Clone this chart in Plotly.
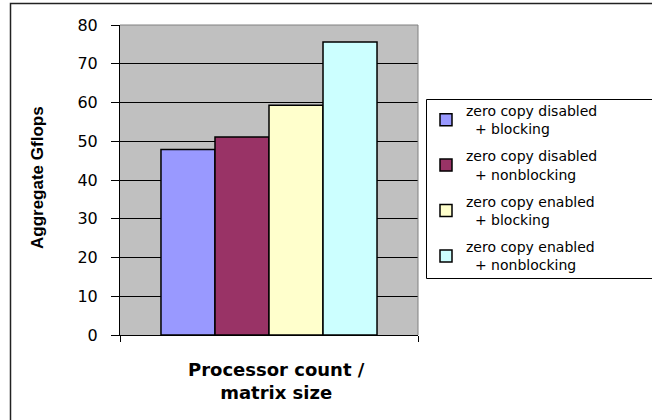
import plotly.graph_objects as go

# Aggregate Gflops for each communication configuration
series_names = [
    "zero copy disabled<br>\u00a0\u00a0+ blocking",
    "zero copy disabled<br>\u00a0\u00a0+ nonblocking",
    "zero copy enabled<br>\u00a0\u00a0+ blocking",
    "zero copy enabled<br>\u00a0\u00a0+ nonblocking",
]
gflops = [47.9, 51.1, 59.3, 75.6]
bar_colors = ["#9999FF", "#993366", "#FFFFCC", "#CCFFFF"]
category = ["Processor count / matrix size"]
y_ticks = [0, 10, 20, 30, 40, 50, 60, 70, 80]

W, H = 652, 420
L, R, T, B = 120, 418, 25, 335  # plot area in pixels


def px_x(x):
    return (x - L) / (R - L)


def px_y(y):
    return (B - y) / (B - T)


fig = go.Figure()
for i, (name, val, col) in enumerate(zip(series_names, gflops, bar_colors)):
    fig.add_trace(go.Bar(
        x=category, y=[val], name=name, legendgroup=f"g{i}",
        marker=dict(color=col, line=dict(color="black", width=1.5)),
    ))

wide = "DejaVu Sans, Arial, sans-serif"

fig.update_layout(
    width=W, height=H,
    margin=dict(l=L, r=W - R, t=T, b=H - B, autoexpand=False),
    paper_bgcolor="white",
    plot_bgcolor="#C0C0C0",
    barmode="group",
    bargap=0.275,
    bargroupgap=0,
    font=dict(family=wide, color="black", size=15),
    showlegend=True,
    legend=dict(
        x=px_x(426), y=px_y(95), xanchor="left", yanchor="top",
        borderwidth=0, bgcolor="rgba(0,0,0,0)",
        font=dict(family=wide, size=14),
        traceorder="grouped", tracegroupgap=6,
    ),
    xaxis=dict(
        range=[-0.5, 0.5], showticklabels=False,
        showline=True, linecolor="black", linewidth=1,
        ticks="outside", tickson="boundaries", ticklen=6, tickcolor="black",
        showgrid=False, zeroline=False, fixedrange=True,
    ),
    yaxis=dict(
        range=[0, 80], tickvals=y_ticks, ticks="outside", ticklen=8,
        tickcolor="black", ticklabelstandoff=10,
        tickfont=dict(family=wide, size=16),
        showline=True, linecolor="black", linewidth=1,
        showgrid=True, gridcolor="black", gridwidth=1, zeroline=False,
    ),
)

# plot-area frame on top and right
fig.add_shape(type="line", xref="paper", yref="paper", x0=0, x1=1, y0=1, y1=1,
              line=dict(color="#808080", width=1))
fig.add_shape(type="line", xref="paper", yref="paper", x0=1, x1=1, y0=0, y1=1,
              line=dict(color="#808080", width=1))

# legend box, running off the right edge of the chart
fig.add_shape(type="rect", xref="paper", yref="paper",
              x0=px_x(426.5), x1=px_x(700), y0=px_y(99.5), y1=px_y(278.5),
              line=dict(color="black", width=1), fillcolor="white", layer="below")

# chart border
fig.add_shape(type="rect", xref="paper", yref="paper",
              x0=px_x(10.5), x1=px_x(700), y0=px_y(3.5), y1=px_y(460),
              line=dict(color="#222222", width=1.5), layer="above")

# axis titles
fig.add_annotation(
    text="<b>Processor count /<br>matrix size</b>", xref="paper", yref="paper",
    x=px_x(276), y=px_y(381), showarrow=False,
    font=dict(family=wide, size=18),
    xanchor="center", yanchor="middle",
)
fig.add_annotation(
    text="<b>Aggregate Gflops</b>", xref="paper", yref="paper",
    x=px_x(37), y=px_y(178), showarrow=False, textangle=-90,
    font=dict(family="Liberation Sans, Arial, sans-serif", size=17),
    xanchor="center", yanchor="middle",
)

fig.write_html("out.html")
